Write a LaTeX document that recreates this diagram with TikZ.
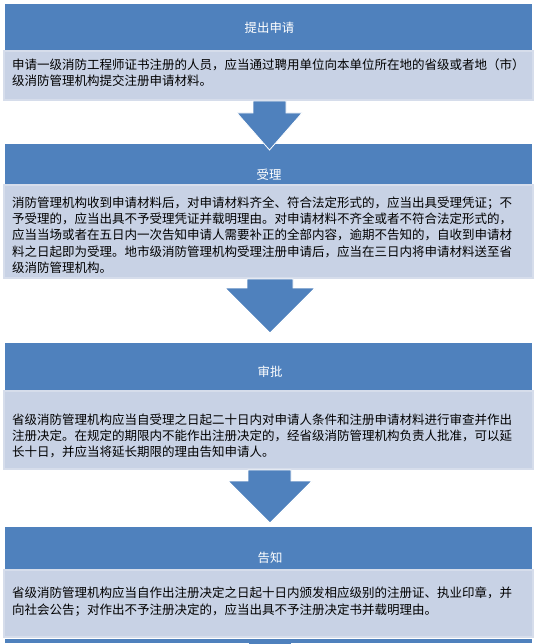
\documentclass[tikz,border=0pt]{standalone}
\usepackage{fontspec}
\setmainfont{Noto Sans CJK SC}
\usepackage{tikz}
\usetikzlibrary{calc}

\definecolor{hdrblue}{HTML}{4F81BD}
\definecolor{bodyfill}{HTML}{C8D2E5}
\definecolor{bodyedge}{HTML}{D6DDEB}

\begin{document}
\begin{tikzpicture}[x=1pt, y=-1pt,
    hdr/.style={fill=hdrblue},
    bodybox/.style={fill=bodyfill, draw=bodyedge, line width=1.5pt},
    blockarrow/.style={fill=hdrblue, draw=white, line width=0.8pt},
    hdrtext/.style={text=white, inner sep=0pt, font=\fontsize{12.4}{15}\selectfont},
    bodytext/.style={anchor=north west, align=left, inner sep=0pt, font=\fontsize{12.5}{16.3}\selectfont}]

    \useasboundingbox[fill=white] (0,0) rectangle (537,644);

    % ---------- Step 1 ----------
    \fill[hdr] (5,4) rectangle (532,50);
    \draw[bodybox] (4,51) rectangle (533,100);
    \node[hdrtext] (t1) at (269.5,28) {提出申请};
    \node[bodytext] (b1) at (12,58.5) {申请一级消防工程师证书注册的人员，应当通过聘用单位向本单位所在地的省级或者地（市）\\级消防管理机构提交注册申请材料。};

    % ---------- Step 2 ----------
    \fill[hdr] (5,144) rectangle (532,184);
    \draw[bodybox] (4,185) rectangle (533,278);
    \node[hdrtext] (t2) at (269,175) {受理};
    \node[bodytext] (b2) at (12,196.5) {消防管理机构收到申请材料后，对申请材料齐全、符合法定形式的，应当出具受理凭证；不\\
        予受理的，应当出具不予受理凭证并载明理由。对申请材料不齐全或者不符合法定形式的，\\
        应当当场或者在五日内一次告知申请人需要补正的全部内容，逾期不告知的，自收到申请材\\
        料之日起即为受理。地市级消防管理机构受理注册申请后，应当在三日内将申请材料送至省\\
        级消防管理机构。};

    % ---------- Step 3 ----------
    \fill[hdr] (5,343) rectangle (532,390);
    \draw[bodybox] (4,391) rectangle (533,469);
    \node[hdrtext] (t3) at (270,372) {审批};
    \node[bodytext] (b3) at (12,413.5) {省级消防管理机构应当自受理之日起二十日内对申请人条件和注册申请材料进行审查并作出\\
        注册决定。在规定的期限内不能作出注册决定的，经省级消防管理机构负责人批准，可以延\\
        长十日，并应当将延长期限的理由告知申请人。};

    % ---------- Step 4 ----------
    \fill[hdr] (5,527) rectangle (532,569);
    \draw[bodybox] (4,570) rectangle (533,637);
    \node[hdrtext] (t4) at (270,558) {告知};
    \node[bodytext] (b4) at (12,587) {省级消防管理机构应当自作出注册决定之日起十日内颁发相应级别的注册证、执业印章，并\\
        向社会公告；对作出不予注册决定的，应当出具不予注册决定书并载明理由。};

    % next step (cut off)
    \fill[hdr] (5,639) rectangle (532,643);
    \fill[hdr] (249,639) rectangle (291,644);

    % ---------- Arrows ----------
    \filldraw[blockarrow] (253,101) -- (286,101) -- (286,113) -- (302,113) -- (269.5,150) -- (237,113) -- (253,113) -- cycle;
    \filldraw[blockarrow] (247,279) -- (293,279) -- (293,288) -- (315,288) -- (270,333) -- (225,288) -- (247,288) -- cycle;
    \filldraw[blockarrow] (248,470) -- (291,470) -- (291,481) -- (312,481) -- (270,523) -- (228,481) -- (248,481) -- cycle;

\end{tikzpicture}
\end{document}
